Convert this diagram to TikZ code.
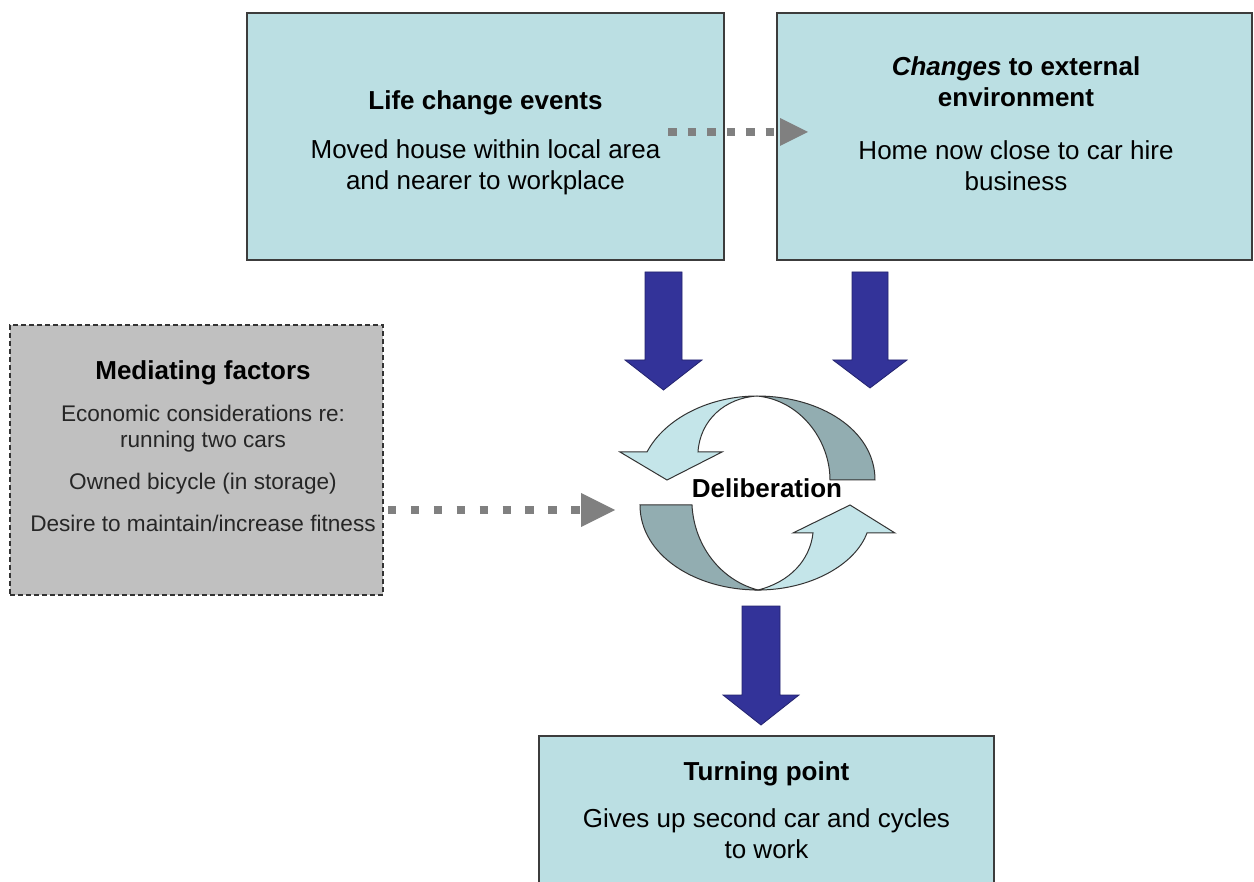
\documentclass[tikz,border=0pt]{standalone}
\usepackage{fontspec}
\setmainfont{Liberation Sans}
\definecolor{boxfill}{RGB}{187,223,227}
\definecolor{boxline}{RGB}{60,60,60}
\definecolor{medfill}{RGB}{192,192,192}
\definecolor{bluearrow}{RGB}{51,51,153}
\definecolor{bluedark}{RGB}{35,35,110}
\definecolor{cyclelight}{RGB}{196,229,233}
\definecolor{cycledark}{RGB}{146,173,177}
\definecolor{dotgray}{RGB}{128,128,128}
\begin{document}
\begin{tikzpicture}[x=1pt,y=-1pt,
  infobox/.style={draw=boxline, line width=1.3pt, fill=boxfill, rectangle, inner sep=0pt},
  medbox/.style={draw=black!80, line width=1.3pt, dash pattern=on 5pt off 3pt, fill=medfill, rectangle, inner sep=0pt},
  titletext/.style={font=\fontsize{26}{31}\selectfont\bfseries, anchor=base, align=center, inner sep=0pt},
  bodytext/.style={font=\fontsize{26}{31}\selectfont, anchor=base, align=center, inner sep=0pt},
  medtext/.style={font=\fontsize{22.6}{26}\selectfont, text=black!85, anchor=base, align=center, inner sep=0pt},
  blockarrow/.style={fill=bluearrow, draw=bluedark, line width=0.8pt},
  dotline/.style={draw=dotgray, line width=8.5pt},
  dothead/.style={fill=dotgray},
  cyclelightpart/.style={fill=cyclelight, draw=black!80, line width=1pt},
  cycledarkpart/.style={fill=cycledark, draw=black!80, line width=1pt}
]
\useasboundingbox (0,0) rectangle (1254,882);
\clip (0,0) rectangle (1254,882);
\fill[white] (0,0) rectangle (1254,882);

% boxes
\node[infobox, minimum width=477pt, minimum height=247pt] (life) at (485.5,136.5) {};
\node[infobox, minimum width=475pt, minimum height=247pt] (env) at (1014.5,136.5) {};
\node[medbox, minimum width=373pt, minimum height=270pt] (med) at (196.5,460) {};
\node[infobox, minimum width=455pt, minimum height=164pt] (turn) at (766.5,818) {};

% texts (anchor=base refers to the last line's baseline)
\node[titletext] (lifetitle) at (485.5,110) {Life change events};
\node[bodytext] (lifebody) at (485.5,190) {Moved house within local area\\and nearer to workplace};
\node[titletext] (envtitle) at (1016,107) {\textit{Changes} to external\\environment};
\node[bodytext] (envbody) at (1016,191) {Home now close to car hire\\business};
\node[titletext] (medtitle) at (203,380) {Mediating factors};
\node[medtext] (med1) at (203,448) {Economic considerations re:\\running two cars};
\node[medtext] (med2) at (203,490) {Owned bicycle (in storage)};
\node[medtext] (med3) at (203,532) {Desire to maintain/increase fitness};
\node[titletext] (turntitle) at (766.5,780) {Turning point};
\node[bodytext] (turnbody) at (766.5,858) {Gives up second car and cycles\\to work};

% dotted arrows
\coordinate (d1s) at (668,132);
\coordinate (d1e) at (778,132);
\draw[dotline, dash pattern=on 8.5pt off 11pt] (d1s) -- (d1e);
\fill[dothead] (780,118) -- (808,132) -- (780,146) -- cycle;
\coordinate (d2s) at (388,510);
\coordinate (d2e) at (580,510);
\draw[dotline, dash pattern=on 8.3pt off 14.6pt] (d2s) -- (d2e);
\fill[dothead] (581,493) -- (615,510) -- (581,527) -- cycle;

% block arrows
\draw[blockarrow] (645,272) -- (682,272) -- (682,360) -- (702,360) -- (663.5,390) -- (625,360) -- (645,360) -- cycle;
\draw[blockarrow] (852,272) -- (888,272) -- (888,360) -- (907,360) -- (870,388) -- (833,360) -- (852,360) -- cycle;
\draw[blockarrow] (742,606) -- (780,606) -- (780,695) -- (799,695) -- (761,725) -- (723,695) -- (742,695) -- cycle;

% cycle
\draw[cycledarkpart] (757,396) .. controls (820,396) and (875,430) .. (875,480) -- (830,480)
  .. controls (830,440) and (800,400) .. (757,396) -- cycle;
\draw[cyclelightpart] (757,396) .. controls (710,396) and (665,418) .. (647,452) -- (620,452) -- (667,480) -- (722,452) -- (698,452)
  .. controls (700,420) and (725,398) .. (757,396) -- cycle;
\draw[cycledarkpart] (640,505) -- (692,505) .. controls (694,545) and (720,580) .. (758,590)
  .. controls (695,590) and (640,555) .. (640,505) -- cycle;
\draw[cyclelightpart] (758,590) .. controls (810,590) and (855,565) .. (867,533) -- (895,533) -- (850,505) -- (793,533) -- (813,533)
  .. controls (810,560) and (790,582) .. (758,590) -- cycle;
\node[titletext] (delib) at (767,498) {Deliberation};
\end{tikzpicture}
\end{document}
